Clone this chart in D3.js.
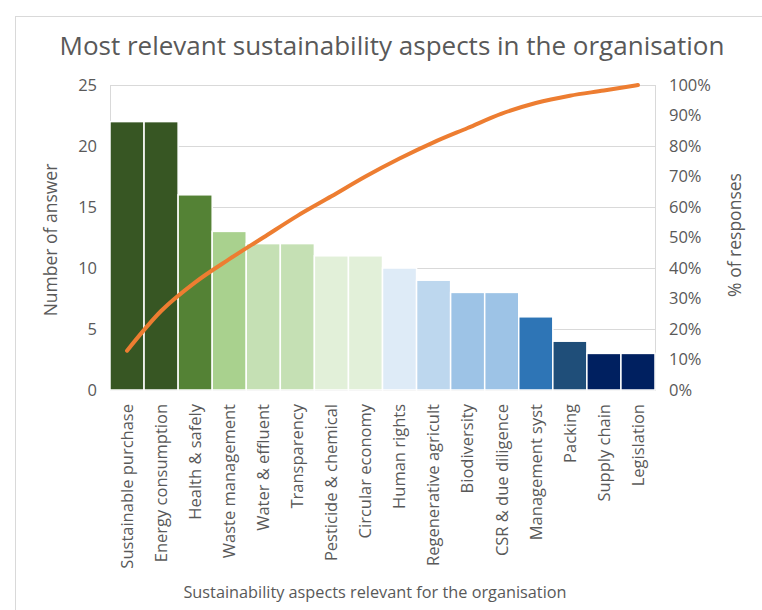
<!DOCTYPE html>
<html lang="en">
<head>
  <meta charset="UTF-8">
  <title>Most relevant sustainability aspects in the organisation</title>
  <script src="https://d3js.org/d3.v7.min.js"></script>
  <style>
    body { margin: 0; background: #fff; }
    svg text { font-family: "Open Sans", "Liberation Sans", sans-serif; fill: #595959; }
    .axis path, .axis line { display: none; }
    .grid line { stroke: #d9d9d9; }
  </style>
</head>
<body>
  <div id="chart"></div>

  <script>
    // Data
    const aspects = [
      "Sustainable purchase", "Energy consumption", "Health & safely", "Waste management",
      "Water & effluent", "Transparency", "Pesticide & chemical", "Circular economy",
      "Human rights", "Regenerative agricult", "Biodiversity", "CSR & due diligence",
      "Management syst", "Packing", "Supply chain", "Legislation"
    ];
    const answers = [22, 22, 16, 13, 12, 12, 11, 11, 10, 9, 8, 8, 6, 4, 3, 3];
    const cumulativePct = [12.9, 25.9, 35.3, 42.9, 50.0, 57.1, 63.5, 70.0, 75.9, 81.2, 85.9, 90.6, 94.1, 96.5, 98.2, 100];
    const barColors = [
      "#375623", "#375623", "#548235", "#a9d18e", "#c5e0b4", "#c5e0b4", "#e2f0d9", "#e2f0d9",
      "#deebf7", "#bdd7ee", "#9dc3e6", "#9dc3e6", "#2e75b6", "#1f4e79", "#002060", "#002060"
    ];
    const leftTicks = [0, 5, 10, 15, 20, 25];
    const rightTicks = [0, 10, 20, 30, 40, 50, 60, 70, 80, 90, 100];

    const W = 762, H = 610;
    const margin = { top: 85, right: 107, bottom: 220, left: 110 };
    const width = W - margin.left - margin.right;
    const height = H - margin.top - margin.bottom;

    const root = d3.select("#chart").append("svg")
      .attr("width", W)
      .attr("height", H);

    // outer chart frame
    root.append("rect")
      .attr("x", 15.5).attr("y", 16.5)
      .attr("width", W).attr("height", H)
      .attr("fill", "none").attr("stroke", "#d9d9d9");

    root.append("text")
      .attr("x", 392).attr("y", 55)
      .attr("text-anchor", "middle")
      .style("font-size", "26px")
      .text("Most relevant sustainability aspects in the organisation");

    const svg = root.append("g")
      .attr("transform", "translate(" + margin.left + "," + margin.top + ")");

    const x = d3.scaleBand()
      .domain(aspects)
      .range([0, width])
      .padding(0);

    const y = d3.scaleLinear().domain([0, 25]).range([height, 0]);
    const y2 = d3.scaleLinear().domain([0, 100]).range([height, 0]);

    // gridlines
    svg.append("g")
      .attr("class", "grid")
      .selectAll("line")
      .data(leftTicks)
      .enter().append("line")
      .attr("x1", 0).attr("x2", width)
      .attr("y1", d => Math.round(y(d)) + 0.5)
      .attr("y2", d => Math.round(y(d)) + 0.5);

    // plot frame
    svg.append("rect")
      .attr("x", 0.5).attr("y", 0.5)
      .attr("width", width).attr("height", height)
      .attr("fill", "none").attr("stroke", "#d9d9d9");

    // bars
    svg.selectAll(".bar")
      .data(answers)
      .enter().append("rect")
      .attr("class", "bar")
      .attr("x", (d, i) => x(aspects[i]))
      .attr("width", x.bandwidth())
      .attr("y", d => y(d))
      .attr("height", d => height - y(d))
      .attr("fill", (d, i) => barColors[i])
      .attr("stroke", "#fff")
      .attr("stroke-width", 1.5);

    // cumulative line
    const line = d3.line()
      .x((d, i) => x(aspects[i]) + x.bandwidth() / 2)
      .y(d => y2(d))
      .curve(d3.curveMonotoneX);

    svg.append("path")
      .datum(cumulativePct)
      .attr("d", line)
      .attr("fill", "none")
      .attr("stroke", "#ed7d31")
      .attr("stroke-width", 4)
      .attr("stroke-linecap", "round")
      .attr("stroke-linejoin", "round");

    // left axis
    svg.append("g")
      .attr("class", "axis")
      .call(d3.axisLeft(y).tickValues(leftTicks).tickSize(0).tickPadding(13))
      .selectAll("text")
      .style("font-size", "16.5px");

    // right axis
    svg.append("g")
      .attr("class", "axis")
      .attr("transform", "translate(" + width + ",0)")
      .call(d3.axisRight(y2).tickValues(rightTicks).tickSize(0).tickPadding(14).tickFormat(d => d + "%"))
      .selectAll("text")
      .style("font-size", "16.5px");

    // bottom axis
    svg.append("g")
      .attr("class", "axis")
      .attr("transform", "translate(0," + height + ")")
      .call(d3.axisBottom(x).tickSize(0))
      .selectAll("text")
      .style("font-size", "16.5px")
      .style("text-anchor", "end")
      .attr("transform", "rotate(-90)")
      .attr("x", -14)
      .attr("y", 0)
      .attr("dy", "0.35em");

    // axis titles
    svg.append("text")
      .attr("transform", "rotate(-90)")
      .attr("x", -(240 - margin.top))
      .attr("y", -53)
      .style("text-anchor", "middle")
      .style("font-size", "17.5px")
      .text("Number of answer");

    svg.append("text")
      .attr("transform", "rotate(-90)")
      .attr("x", -(235 - margin.top))
      .attr("y", width + 86)
      .style("text-anchor", "middle")
      .style("font-size", "17.5px")
      .text("% of responses");

    svg.append("text")
      .attr("x", 375 - margin.left)
      .attr("y", 598 - margin.top)
      .style("text-anchor", "middle")
      .style("font-size", "16.3px")
      .text("Sustainability aspects relevant for the organisation");
  </script>
</body>
</html>
